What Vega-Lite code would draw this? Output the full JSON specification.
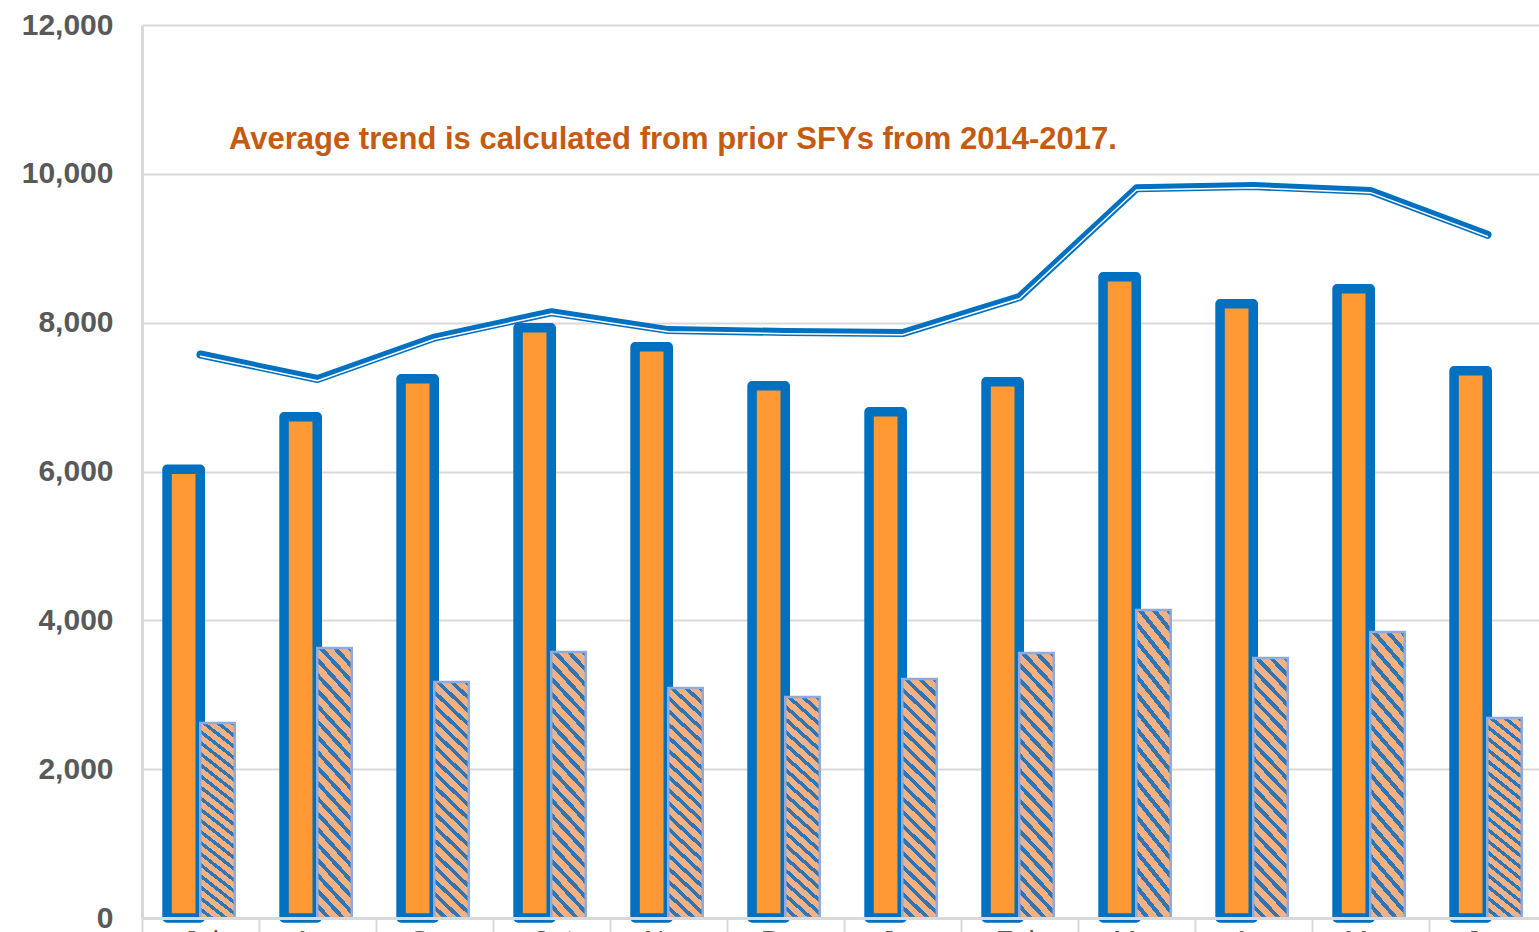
{
  "$schema": "https://vega.github.io/schema/vega-lite/v6.json",
  "width": 1397,
  "height": 893,
  "autosize": {"type": "none"},
  "padding": {"left": 142, "top": 25, "right": 0, "bottom": 14},
  "background": "white",
  "config": {"view": {"stroke": null}, "font": "Liberation Sans"},
  "data": {"values": [
    {"month": "Jul", "value_a": 6030, "value_b": 2620, "average_trend": 7572},
    {"month": "Aug", "value_a": 6735, "value_b": 3628, "average_trend": 7243},
    {"month": "Sep", "value_a": 7246, "value_b": 3171, "average_trend": 7800},
    {"month": "Oct", "value_a": 7931, "value_b": 3574, "average_trend": 8140},
    {"month": "Nov", "value_a": 7676, "value_b": 3091, "average_trend": 7900},
    {"month": "Dec", "value_a": 7152, "value_b": 2970, "average_trend": 7875},
    {"month": "Jan", "value_a": 6803, "value_b": 3212, "average_trend": 7860},
    {"month": "Feb", "value_a": 7206, "value_b": 3561, "average_trend": 8345},
    {"month": "Mar", "value_a": 8617, "value_b": 4139, "average_trend": 9805},
    {"month": "Apr", "value_a": 8254, "value_b": 3494, "average_trend": 9835},
    {"month": "May", "value_a": 8455, "value_b": 3843, "average_trend": 9770},
    {"month": "Jun", "value_a": 7354, "value_b": 2687, "average_trend": 9180}
  ]},
  "encoding": {
    "x": {
      "field": "month",
      "type": "nominal",
      "sort": null,
      "scale": {"domain": ["Jul","Aug","Sep","Oct","Nov","Dec","Jan","Feb","Mar","Apr","May","Jun"], "range": [0, 1404], "paddingInner": 0, "paddingOuter": 0},
      "axis": {
        "title": null, "labelAngle": 0, "domainColor": "#D9D9D9", "domainWidth": 3,
        "ticks": true, "tickBand": "extent", "tickColor": "#D9D9D9", "tickWidth": 2, "tickSize": 20,
        "labelFont": "Liberation Sans", "labelFontSize": 28, "labelColor": "#595959",
        "labelPadding": -11, "labelBaseline": "top", "zindex": 1
      }
    }
  },
  "layer": [
    {
      "mark": {"type": "bar", "fill": "#FF9933", "stroke": "#0070C0", "strokeWidth": 9.5, "strokeJoin": "round", "width": 33.2, "xOffset": -16.85},
      "encoding": {
        "y": {
          "field": "value_a", "type": "quantitative",
          "scale": {"domain": [0, 12000], "nice": false},
          "axis": {
            "title": null, "values": [0,2000,4000,6000,8000,10000,12000], "format": ",.0f",
            "grid": true, "gridColor": "#D9D9D9", "gridWidth": 2,
            "domainColor": "#D9D9D9", "domainWidth": 3, "ticks": false,
            "labelFont": "Liberation Sans", "labelFontSize": 30, "labelFontWeight": "bold",
            "labelColor": "#595959", "labelPadding": 29
          }
        }
      }
    },
    {
      "mark": {
        "type": "bar", "stroke": "#8FAADC", "strokeWidth": 2.5, "width": 34.5, "xOffset": 17,
        "fill": {"gradient": "linear", "x1": 0, "y1": 1, "x2": 0.155, "y2": -0.1175, "stops": [
          {"offset": 0, "color": "#F4B183"}, {"offset": 0.031, "color": "#F4B183"}, {"offset": 0.031, "color": "#2E75B6"}, {"offset": 0.05, "color": "#2E75B6"},
          {"offset": 0.05, "color": "#F4B183"}, {"offset": 0.081, "color": "#F4B183"}, {"offset": 0.081, "color": "#2E75B6"}, {"offset": 0.1, "color": "#2E75B6"},
          {"offset": 0.1, "color": "#F4B183"}, {"offset": 0.131, "color": "#F4B183"}, {"offset": 0.131, "color": "#2E75B6"}, {"offset": 0.15, "color": "#2E75B6"},
          {"offset": 0.15, "color": "#F4B183"}, {"offset": 0.181, "color": "#F4B183"}, {"offset": 0.181, "color": "#2E75B6"}, {"offset": 0.2, "color": "#2E75B6"},
          {"offset": 0.2, "color": "#F4B183"}, {"offset": 0.231, "color": "#F4B183"}, {"offset": 0.231, "color": "#2E75B6"}, {"offset": 0.25, "color": "#2E75B6"},
          {"offset": 0.25, "color": "#F4B183"}, {"offset": 0.281, "color": "#F4B183"}, {"offset": 0.281, "color": "#2E75B6"}, {"offset": 0.3, "color": "#2E75B6"},
          {"offset": 0.3, "color": "#F4B183"}, {"offset": 0.331, "color": "#F4B183"}, {"offset": 0.331, "color": "#2E75B6"}, {"offset": 0.35, "color": "#2E75B6"},
          {"offset": 0.35, "color": "#F4B183"}, {"offset": 0.381, "color": "#F4B183"}, {"offset": 0.381, "color": "#2E75B6"}, {"offset": 0.4, "color": "#2E75B6"},
          {"offset": 0.4, "color": "#F4B183"}, {"offset": 0.431, "color": "#F4B183"}, {"offset": 0.431, "color": "#2E75B6"}, {"offset": 0.45, "color": "#2E75B6"},
          {"offset": 0.45, "color": "#F4B183"}, {"offset": 0.481, "color": "#F4B183"}, {"offset": 0.481, "color": "#2E75B6"}, {"offset": 0.5, "color": "#2E75B6"},
          {"offset": 0.5, "color": "#F4B183"}, {"offset": 0.531, "color": "#F4B183"}, {"offset": 0.531, "color": "#2E75B6"}, {"offset": 0.55, "color": "#2E75B6"},
          {"offset": 0.55, "color": "#F4B183"}, {"offset": 0.581, "color": "#F4B183"}, {"offset": 0.581, "color": "#2E75B6"}, {"offset": 0.6, "color": "#2E75B6"},
          {"offset": 0.6, "color": "#F4B183"}, {"offset": 0.631, "color": "#F4B183"}, {"offset": 0.631, "color": "#2E75B6"}, {"offset": 0.65, "color": "#2E75B6"},
          {"offset": 0.65, "color": "#F4B183"}, {"offset": 0.681, "color": "#F4B183"}, {"offset": 0.681, "color": "#2E75B6"}, {"offset": 0.7, "color": "#2E75B6"},
          {"offset": 0.7, "color": "#F4B183"}, {"offset": 0.731, "color": "#F4B183"}, {"offset": 0.731, "color": "#2E75B6"}, {"offset": 0.75, "color": "#2E75B6"},
          {"offset": 0.75, "color": "#F4B183"}, {"offset": 0.781, "color": "#F4B183"}, {"offset": 0.781, "color": "#2E75B6"}, {"offset": 0.8, "color": "#2E75B6"},
          {"offset": 0.8, "color": "#F4B183"}, {"offset": 0.831, "color": "#F4B183"}, {"offset": 0.831, "color": "#2E75B6"}, {"offset": 0.85, "color": "#2E75B6"},
          {"offset": 0.85, "color": "#F4B183"}, {"offset": 0.881, "color": "#F4B183"}, {"offset": 0.881, "color": "#2E75B6"}, {"offset": 0.9, "color": "#2E75B6"},
          {"offset": 0.9, "color": "#F4B183"}, {"offset": 0.931, "color": "#F4B183"}, {"offset": 0.931, "color": "#2E75B6"}, {"offset": 0.95, "color": "#2E75B6"},
          {"offset": 0.95, "color": "#F4B183"}, {"offset": 0.981, "color": "#F4B183"}, {"offset": 0.981, "color": "#2E75B6"}, {"offset": 1, "color": "#2E75B6"}
        ]}
      },
      "encoding": {"y": {"field": "value_b", "type": "quantitative"}}
    },
    {
      "mark": {"type": "line", "color": "#0070C0", "strokeWidth": 8, "strokeCap": "round", "strokeJoin": "round"},
      "encoding": {"y": {"field": "average_trend", "type": "quantitative"}}
    },
    {
      "mark": {"type": "line", "color": "#FFFFFF", "strokeWidth": 1.5, "strokeCap": "round", "strokeJoin": "round", "yOffset": 1.7},
      "encoding": {"y": {"field": "average_trend", "type": "quantitative"}}
    },
    {
      "data": {"values": [{"note": "Average trend is calculated from prior SFYs from 2014-2017."}]},
      "mark": {"type": "text", "align": "left", "baseline": "alphabetic", "dx": 28.5, "font": "Liberation Sans", "fontSize": 31, "fontWeight": "bold", "color": "#C55A11"},
      "encoding": {
        "x": {"datum": "Jul"},
        "y": {"datum": 10333},
        "text": {"field": "note"}
      }
    }
  ]
}
